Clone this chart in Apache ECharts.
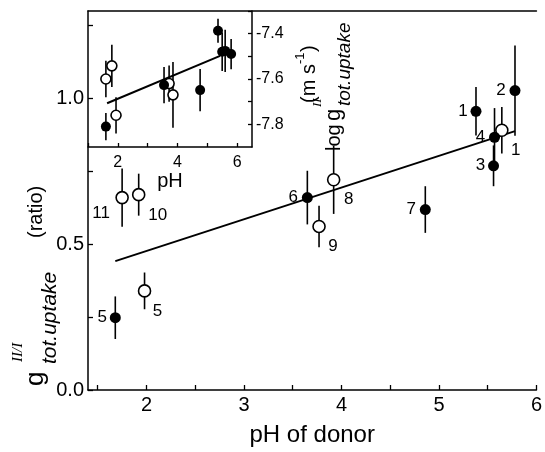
<!DOCTYPE html>
<html>
<head>
<meta charset="utf-8">
<script src="https://cdn.jsdelivr.net/npm/echarts@6/dist/echarts.min.js"></script>
<style>
html, body { margin: 0; padding: 0; background: #fff; }
#main { width: 545px; height: 452px; }
</style>
</head>
<body>
<div id="main"></div>
<script>
// main panel: ratio vs pH of donor
var filledX = [1.68, 3.65, 4.86, 5.38, 5.78, 5.57, 5.56];
var filledY = [0.248, 0.66, 0.619, 0.956, 1.027, 0.867, 0.769];
var filledErr = [0.073, 0.092, 0.08, 0.083, 0.155, 0.1, 0.07];
var filledNames = ['5', '6', '7', '1', '2', '4', '3'];

var openX = [1.75, 1.92, 1.98, 3.92, 3.77, 5.645];
var openY = [0.66, 0.67, 0.34, 0.721, 0.561, 0.891];
var openErr = [0.1, 0.072, 0.063, 0.117, 0.071, 0.08];
var openNames = ['11', '10', '5', '8', '9', '1'];

var fitX = [1.68, 5.78];
var fitY = [0.442, 0.888];

var xTicks = [1.5, 2, 2.5, 3, 3.5, 4, 4.5, 5, 5.5, 6];
var xLabels = [2, 3, 4, 5, 6];
var yTicks = [0, 0.25, 0.5, 0.75, 1, 1.25];
var yLabels = [0, 0.5, 1];

// inset: log g vs pH
var inFilledX = [1.6, 3.55, 4.76, 5.36, 5.5, 5.6, 5.8];
var inFilledY = [-7.81, -7.627, -7.649, -7.387, -7.48, -7.476, -7.49];
var inFilledErr = [0.06, 0.08, 0.093, 0.053, 0.085, 0.093, 0.067];

var inOpenX = [1.6, 1.8, 1.94, 3.72, 3.85];
var inOpenY = [-7.6, -7.542, -7.76, -7.62, -7.67];
var inOpenErr = [0.08, 0.093, 0.08, 0.08, 0.145];

var inFitX = [1.64, 5.43];
var inFitY = [-7.707, -7.498];

var inXTicks = [1, 2, 3, 4, 5, 6];
var inXLabels = [2, 4, 6];
var inYTicks = [-7.8, -7.7, -7.6, -7.5, -7.4, -7.3];
var inYLabels = [-7.8, -7.6, -7.4];

// label offsets (px) for the point numbers
var filledLabelOffset = [[-13, 0], [-14, 0], [-14, 0], [-13, 0], [-14, 0], [-14, 0], [-13, 0]];
var openLabelOffset = [[-21, 16], [19, 21], [13, 20], [15, 20], [14, 20], [14, 20]];

var FONT = '"Liberation Sans", Arial, sans-serif';
var black = '#000';

var chart = echarts.init(document.getElementById('main'));

function errorBars(xs, ys, es, axis) {
  return {
    type: 'custom',
    xAxisIndex: axis[0],
    yAxisIndex: axis[1],
    silent: true,
    z: 3,
    renderItem: function (params, api) {
      var x = api.value(0), y = api.value(1), e = api.value(2);
      var p1 = api.coord([x, y - e]);
      var p2 = api.coord([x, y + e]);
      return {
        type: 'line',
        shape: { x1: p1[0], y1: p1[1], x2: p2[0], y2: p2[1] },
        style: { stroke: black, lineWidth: 1.6 }
      };
    },
    data: xs.map(function (x, i) { return [x, ys[i], es[i]]; })
  };
}

function points(xs, ys, names, offsets, open, size, axis) {
  return {
    type: 'scatter',
    xAxisIndex: axis[0],
    yAxisIndex: axis[1],
    symbol: 'circle',
    symbolSize: size,
    z: 5,
    itemStyle: open
      ? { color: '#fff', borderColor: black, borderWidth: 1.6, opacity: 1 }
      : { color: black, opacity: 1 },
    data: xs.map(function (x, i) {
      var d = { value: [x, ys[i]] };
      if (names) {
        d.label = {
          show: true,
          position: 'inside',
          formatter: names[i],
          offset: offsets[i],
          color: black,
          fontSize: 17,
          fontFamily: FONT
        };
      }
      return d;
    })
  };
}

function fitLine(xs, ys, axis) {
  return {
    type: 'line',
    xAxisIndex: axis[0],
    yAxisIndex: axis[1],
    symbol: 'none',
    silent: true,
    z: 4,
    lineStyle: { color: black, width: 2 },
    data: xs.map(function (x, i) { return [x, ys[i]]; })
  };
}

function rtext(s, x, y, font) {
  return {
    type: 'text',
    x: x,
    y: y,
    rotation: Math.PI / 2,
    z: 100,
    style: { text: s, font: font, fill: black, textAlign: 'left', textVerticalAlign: 'middle' }
  };
}

var axisLine = { show: true, lineStyle: { color: black, width: 1.5 } };
var tickStyle = { color: black, width: 1.3 };

var option = {
  backgroundColor: '#fff',
  animation: false,
  grid: [
    { left: 88, top: 11, width: 453, height: 382 },
    { left: 88, top: 11, width: 164, height: 136, show: true, backgroundColor: '#fff', borderWidth: 0, z: 0 }
  ],
  xAxis: [
    {
      gridIndex: 0, type: 'value', min: 1.4, max: 6, position: 'bottom',
      splitLine: { show: false },
      axisLine: axisLine,
      axisTick: { inside: true, length: 5, customValues: xTicks, lineStyle: tickStyle },
      axisLabel: { customValues: xLabels, color: black, fontSize: 20, fontFamily: FONT, margin: 5 },
      name: 'pH of donor', nameLocation: 'middle', nameGap: 33,
      nameTextStyle: { color: black, fontSize: 24, fontFamily: FONT }
    },
    {
      gridIndex: 0, type: 'value', min: 1.4, max: 6, position: 'top',
      splitLine: { show: false }, axisLine: axisLine,
      axisTick: { show: false }, axisLabel: { show: false }
    },
    {
      gridIndex: 1, type: 'value', min: 1, max: 6.5, position: 'bottom',
      splitLine: { show: false },
      axisLine: axisLine,
      axisTick: { inside: true, length: 4, customValues: inXTicks, lineStyle: tickStyle },
      axisLabel: { customValues: inXLabels, color: black, fontSize: 16, fontFamily: FONT, margin: 8 },
      name: 'pH', nameLocation: 'middle', nameGap: 23,
      nameTextStyle: { color: black, fontSize: 20, fontFamily: FONT }
    }
  ],
  yAxis: [
    {
      gridIndex: 0, type: 'value', min: 0, max: 1.3, position: 'left',
      splitLine: { show: false },
      axisLine: axisLine,
      axisTick: { inside: true, length: 5, customValues: yTicks, lineStyle: tickStyle },
      axisLabel: {
        customValues: yLabels, color: black, fontSize: 20, fontFamily: FONT, margin: 4,
        formatter: function (v) { return v.toFixed(1); }
      }
    },
    {
      gridIndex: 1, type: 'value', min: -7.9, max: -7.3, position: 'right',
      splitLine: { show: false },
      axisLine: axisLine,
      axisTick: { inside: true, length: 4, customValues: inYTicks, lineStyle: tickStyle },
      axisLabel: {
        customValues: inYLabels, color: black, fontSize: 16, fontFamily: FONT, margin: 4,
        formatter: function (v) { return v.toFixed(1); }
      }
    }
  ],
  series: [
    fitLine(fitX, fitY, [0, 0]),
    errorBars(filledX, filledY, filledErr, [0, 0]),
    errorBars(openX, openY, openErr, [0, 0]),
    points(openX, openY, openNames, openLabelOffset, true, 12, [0, 0]),
    points(filledX, filledY, filledNames, filledLabelOffset, false, 11, [0, 0]),

    fitLine(inFitX, inFitY, [2, 1]),
    errorBars(inFilledX, inFilledY, inFilledErr, [2, 1]),
    errorBars(inOpenX, inOpenY, inOpenErr, [2, 1]),
    points(inOpenX, inOpenY, null, null, true, 10, [2, 1]),
    points(inFilledX, inFilledY, null, null, false, 10, [2, 1])
  ],
  graphic: [
    // main y title: g^{II/I}_{tot.uptake} (ratio)
    rtext('g', 36, 386, '26px ' + FONT),
    rtext('II/I', 18, 362, 'italic 15px "Liberation Serif", serif'),
    rtext('tot.uptake', 50, 364, 'italic 21px ' + FONT),
    rtext('(ratio)', 36, 238, '20px ' + FONT),
    // inset y title: log g^{II}_{tot.uptake} (m s^-1)
    rtext('log', 334, 151, '20px ' + FONT),
    rtext('g', 334, 121, '22px ' + FONT),
    rtext('II', 318, 107, 'italic 13px "Liberation Serif", serif'),
    rtext('tot.uptake', 345, 106, 'italic 19px ' + FONT),
    rtext('(m s', 309, 103, '20px ' + FONT),
    rtext('-1', 300, 64, '13px ' + FONT),
    rtext(')', 309, 52, '20px ' + FONT)
  ]
};

chart.setOption(option);
</script>
</body>
</html>
